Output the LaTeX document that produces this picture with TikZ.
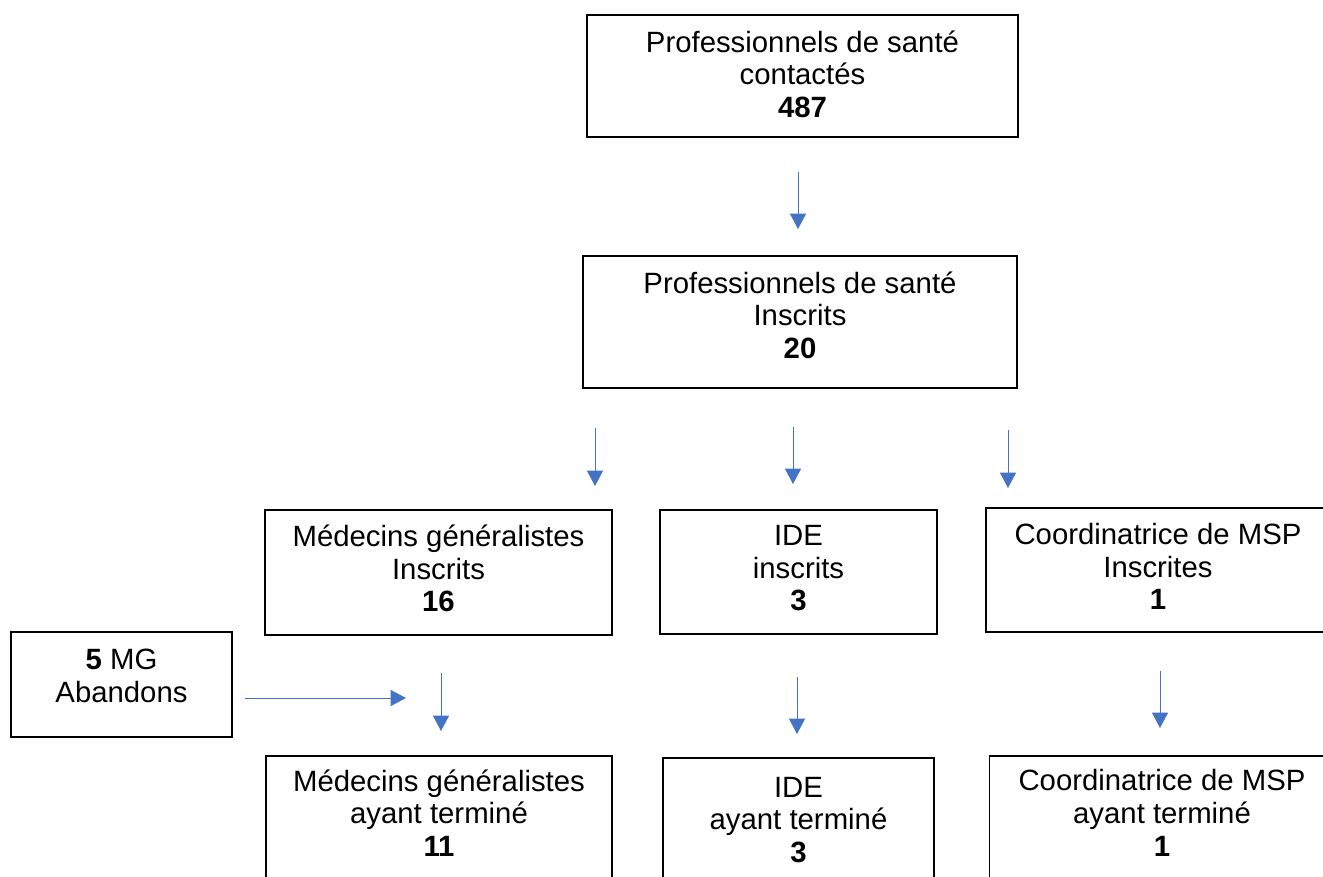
\documentclass[tikz,border=0pt]{standalone}
\usepackage{fontspec}
\setmainfont{Liberation Sans}
\usetikzlibrary{arrows.meta}

\definecolor{flowblue}{HTML}{4472C4}

\begin{document}
\begin{tikzpicture}[x=0.75pt,y=-0.75pt]
        \tikzstyle{every node}=[font=\fontsize{22}{24.5}\selectfont]
        \tikzstyle{box}=[draw=black,line width=0.8pt,align=center,inner sep=0pt]
        \tikzstyle{flow}=[draw=flowblue,line width=0.75pt,-{Triangle[width=12pt,length=11.5pt]}]
        \useasboundingbox (0,0) rectangle (1323,876);

        % contacted and enrolled
        \node[box,minimum width=323.25pt,minimum height=91.5pt,text depth=3pt] (contact) at (802.5,76) {Professionnels de santé\\contactés\\\textbf{487}};
        \node[box,minimum width=325.5pt,minimum height=99pt,text depth=10.5pt] (inscrits) at (800,322) {Professionnels de santé\\Inscrits\\\textbf{20}};

        % enrolled by profession
        \node[box,minimum width=260.25pt,minimum height=93.75pt,text depth=6pt] (mgi) at (438.5,572.5) {Médecins généralistes\\Inscrits\\\textbf{16}};
        \node[box,minimum width=207.75pt,minimum height=93pt,text depth=6pt] (idei) at (798.5,572) {IDE\\inscrits\\\textbf{3}};
        \node[box,minimum width=258pt,minimum height=93pt,text depth=5pt] (coordi) at (1158,570) {Coordinatrice de MSP\\Inscrites\\\textbf{1}};

        % drop-outs
        \node[box,minimum width=165.75pt,minimum height=78.75pt,text depth=13.5pt] (abandons) at (121.5,684.5) {\textbf{5} MG\\Abandons};

        % completed
        \node[box,minimum width=259.5pt,minimum height=93pt,text depth=7.5pt] (mgt) at (439,818) {Médecins généralistes\\ayant terminé\\\textbf{11}};
        \node[box,minimum width=203.25pt,minimum height=93pt] (idet) at (798.5,820) {IDE\\ayant terminé\\\textbf{3}};
        \node[box,minimum width=258.75pt,minimum height=93pt,text depth=7.5pt] (coordt) at (1162,818) {Coordinatrice de MSP\\ayant terminé\\\textbf{1}};

        % arrow ends
        \coordinate (a0s) at (798,172);  \coordinate (a0e) at (798,229);
        \coordinate (a1s) at (595,428);  \coordinate (a1e) at (595,486);
        \coordinate (a2s) at (793,427);  \coordinate (a2e) at (793,484);
        \coordinate (a3s) at (1008,430); \coordinate (a3e) at (1008,488);
        \coordinate (b1s) at (441,673);  \coordinate (b1e) at (441,731);
        \coordinate (b2s) at (797,677);  \coordinate (b2e) at (797,734);
        \coordinate (b3s) at (1160,671); \coordinate (b3e) at (1160,728);
        \coordinate (ab) at (245,698);   \coordinate (abe) at (406,698);

        \draw[flow] (a0s) -- (a0e);
        \draw[flow] (a1s) -- (a1e);
        \draw[flow] (a2s) -- (a2e);
        \draw[flow] (a3s) -- (a3e);
        \draw[flow] (b1s) -- (b1e);
        \draw[flow] (b2s) -- (b2e);
        \draw[flow] (b3s) -- (b3e);
        \draw[flow] (ab) -- (abe);
    \end{tikzpicture}
\end{document}
